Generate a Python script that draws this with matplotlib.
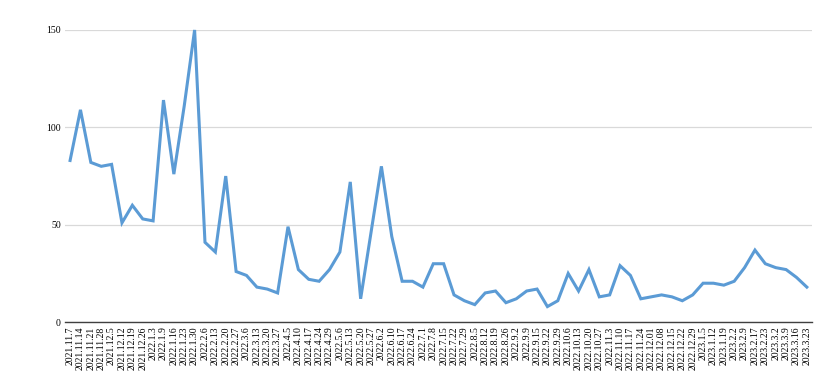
import matplotlib.pyplot as plt

plt.rcParams['font.family'] = ['Liberation Serif', 'DejaVu Serif']

# weekly dates (x labels)
dates = [
    "2021.11.7", "2021.11.14", "2021.11.21", "2021.11.28", "2021.12.5", "2021.12.12",
    "2021.12.19", "2021.12.26", "2022.1.3", "2022.1.9", "2022.1.16", "2022.1.23",
    "2022.1.30", "2022.2.6", "2022.2.13", "2022.2.20", "2022.2.27", "2022.3.6",
    "2022.3.13", "2022.3.20", "2022.3.27", "2022.4.5", "2022.4.10", "2022.4.17",
    "2022.4.24", "2022.4.29", "2022.5.6", "2022.5.13", "2022.5.20", "2022.5.27",
    "2022.6.2", "2022.6.10", "2022.6.17", "2022.6.24", "2022.7.1", "2022.7.8",
    "2022.7.15", "2022.7.22", "2022.7.29", "2022.8.5", "2022.8.12", "2022.8.19",
    "2022.8.26", "2022.9.2", "2022.9.9", "2022.9.15", "2022.9.22", "2022.9.29",
    "2022.10.6", "2022.10.13", "2022.10.20", "2022.10.27", "2022.11.3", "2022.11.10",
    "2022.11.17", "2022.11.24", "2022.12.01", "2022.12.08", "2022.12.15", "2022.12.22",
    "2022.12.29", "2023.1.5", "2023.1.12", "2023.1.19", "2023.2.2", "2023.2.9",
    "2023.2.17", "2023.2.23", "2023.3.2", "2023.3.9", "2023.3.16", "2023.3.23",
]

# values
values = [
    83, 109, 82, 80, 81, 51, 60, 53, 52, 114, 76, 111,
    150, 41, 36, 75, 26, 24, 18, 17, 15, 49, 27, 22,
    21, 27, 36, 72, 12, 46, 80, 44, 21, 21, 18, 30,
    30, 14, 11, 9, 15, 16, 10, 12, 16, 17, 8, 11,
    25, 16, 27, 13, 14, 29, 24, 12, 13, 14, 13, 11,
    14, 20, 20, 19, 21, 28, 37, 30, 28, 27, 23, 18,
]

fig = plt.figure(figsize=(8.32, 3.84), dpi=100)
ax = fig.add_axes([0.078, 0.161, 0.898, 0.761])

x = list(range(len(values)))
ax.plot(x, values, color='#5b9bd5', linewidth=2.2, solid_joinstyle='miter', clip_on=False)

ax.set_xlim(-0.5, len(values) - 0.5)
ax.set_ylim(0, 150)
ax.set_yticks([0, 50, 100, 150])
ax.set_xticks(x)
ax.set_xticklabels(dates, rotation=90, fontsize=7)
ax.tick_params(axis='y', length=0, labelsize=7, pad=3)
ax.tick_params(axis='x', length=0, pad=3)

ax.grid(axis='y', color='#d9d9d9', linewidth=0.9)
ax.set_axisbelow(True)
for s in ['top', 'right', 'left']:
    ax.spines[s].set_visible(False)
ax.spines['bottom'].set_color('#404040')
ax.spines['bottom'].set_linewidth(1.0)

fig.savefig('out.png', dpi=100)
